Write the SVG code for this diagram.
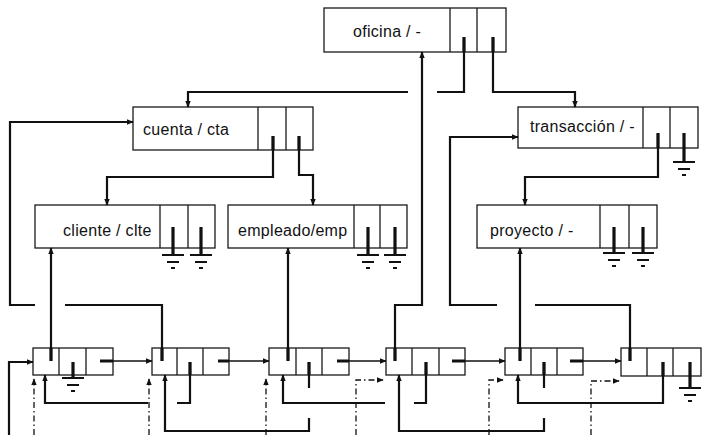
<svg xmlns="http://www.w3.org/2000/svg" width="704" height="435" viewBox="0 0 704 435">
<style>
.box{fill:#fff;stroke:#1a1a1a;stroke-width:1.3}
.dv{stroke:#1a1a1a;stroke-width:1.3;fill:none}
.lbl{font-family:"Liberation Sans",Arial,sans-serif;font-size:16px;letter-spacing:0.3px;fill:#111}
.c{fill:none;stroke:#111;stroke-width:2.2;stroke-linejoin:miter}
.s{fill:none;stroke:#111;stroke-width:3.2}
.t{fill:none;stroke:#111;stroke-width:1.5}
.dd{fill:none;stroke:#111;stroke-width:1.3;stroke-dasharray:6 3 1.5 3}
.g{fill:none;stroke:#111;stroke-width:2}
</style>
<defs>
<marker id="a" viewBox="0 0 10 10" refX="9" refY="5" markerWidth="7" markerHeight="7" markerUnits="userSpaceOnUse" orient="auto"><path d="M0,1 L10,5 L0,9 z" fill="#111"/></marker>
<g id="gnd"><path class="g" d="M-11,0 H11 M-6,7 H6 M-2,13 H2"/></g>
</defs>
<rect width="704" height="435" fill="#fff"/>

<g id="oficina"><rect class="box" x="324" y="8" width="182" height="44"/><path class="dv" d="M450,8 V52 M477,8 V52"/><text class="lbl" x="353" y="37">oficina / -</text></g>
<g id="cuenta"><rect class="box" x="133" y="107" width="180" height="43"/><path class="dv" d="M258,107 V150 M286,107 V150"/><text class="lbl" x="143" y="135">cuenta / cta</text></g>
<g id="transaccion"><rect class="box" x="518" y="107" width="180" height="41"/><path class="dv" d="M643,107 V148 M670,107 V148"/><text class="lbl" x="530" y="132">transacción / -</text></g>
<g id="cliente"><rect class="box" x="35" y="205" width="180" height="43"/><path class="dv" d="M160,205 V248 M188,205 V248"/><text class="lbl" x="63" y="236">cliente / clte</text></g>
<g id="empleado"><rect class="box" x="228" y="205" width="179" height="43"/><path class="dv" d="M354,205 V248 M380,205 V248"/><text class="lbl" x="238" y="236">empleado/emp</text></g>
<g id="proyecto"><rect class="box" x="477" y="205" width="180" height="43"/><path class="dv" d="M600,205 V248 M629,205 V248"/><text class="lbl" x="490" y="236">proyecto / -</text></g>

<g id="n1"><rect class="box" x="33" y="348" width="80" height="27"/><path class="dv" d="M59,348 V375 M86,348 V375"/></g>
<g id="n2"><rect class="box" x="152" y="348" width="77" height="27"/><path class="dv" d="M177,348 V375 M203,348 V375"/></g>
<g id="n3"><rect class="box" x="269" y="348" width="80" height="27"/><path class="dv" d="M296,348 V375 M322,348 V375"/></g>
<g id="n4"><rect class="box" x="386" y="348" width="79" height="27"/><path class="dv" d="M412,348 V375 M439,348 V375"/></g>
<g id="n5"><rect class="box" x="505" y="348" width="78" height="27"/><path class="dv" d="M531,348 V375 M557,348 V375"/></g>
<g id="n6"><rect class="box" x="621" y="348" width="80" height="28"/><path class="dv" d="M647,348 V376 M673,348 V376"/></g>

<g id="connectors">
<path class="c" d="M464,38 V92 H437"/>
<path class="c" d="M408,92 H188 V107" marker-end="url(#a)"/>
<path class="c" d="M493,38 V92 H575 V107" marker-end="url(#a)"/>
<path class="s" d="M464,37 V52 M493,37 V52"/>
<path class="c" d="M273,137 V177 H107 V205" marker-end="url(#a)"/>
<path class="c" d="M299,137 V175 H313 V205" marker-end="url(#a)"/>
<path class="s" d="M273,136 V150 M299,136 V150"/>
<path class="c" d="M658,134 V177 H525 V205" marker-end="url(#a)"/>
<path class="s" d="M658,133 V148 M684,133 V162"/>
<use href="#gnd" x="684" y="162"/>
<path class="s" d="M173,227 V255 M201,227 V255 M368,227 V255 M395,227 V255 M614,227 V253 M643,227 V253"/>
<use href="#gnd" x="173" y="255"/><use href="#gnd" x="201" y="255"/>
<use href="#gnd" x="368" y="255"/><use href="#gnd" x="395" y="255"/>
<use href="#gnd" x="614" y="253"/><use href="#gnd" x="643" y="253"/>

<path class="c" d="M51,361 V248" marker-end="url(#a)"/>
<path class="c" d="M162,361 V305 H65"/>
<path class="c" d="M35,305 H10 V122 H133" marker-end="url(#a)"/>
<path class="c" d="M288,361 V248" marker-end="url(#a)"/>
<path class="c" d="M395,361 V305 H422 V52" marker-end="url(#a)"/>
<path class="c" d="M520,361 V248" marker-end="url(#a)"/>
<path class="c" d="M630,361 V305 H535"/>
<path class="c" d="M497,305 H450 V137 H518" marker-end="url(#a)"/>
<path class="s" d="M51,348 V361 M162,348 V361 M288,348 V361 M395,348 V361 M520,348 V361 M630,348 V361"/>

<path class="c" d="M9,435 V362 H33" marker-end="url(#a)"/>
<path class="t" d="M100,361 H152" marker-end="url(#a)"/>
<path class="t" d="M218,361 H269" marker-end="url(#a)"/>
<path class="t" d="M337,361 H386" marker-end="url(#a)"/>
<path class="t" d="M452,361 H505" marker-end="url(#a)"/>
<path class="t" d="M570,361 H621" marker-end="url(#a)"/>
<path class="s" d="M100,361 H113 M218,361 H229 M337,361 H349 M452,361 H465 M570,361 H583"/>

<path class="s" d="M73,362 V378"/>
<use href="#gnd" x="73" y="378"/>
<path class="c" d="M190,362 V403 H177"/>
<path class="c" d="M148,403 H45 V375" marker-end="url(#a)"/>
<path class="c" d="M309,362 V388"/>
<path class="c" d="M309,418 V431 H165 V375" marker-end="url(#a)"/>
<path class="c" d="M426,362 V403 H414"/>
<path class="c" d="M385,403 H283 V375" marker-end="url(#a)"/>
<path class="c" d="M544,362 V388"/>
<path class="c" d="M544,418 V431 H399 V375" marker-end="url(#a)"/>
<path class="c" d="M663,362 V403 H518 V375" marker-end="url(#a)"/>
<path class="s" d="M690,362 V388"/>
<use href="#gnd" x="690" y="388"/>
<path class="s" d="M190,362 V375 M309,362 V375 M426,362 V375 M544,362 V375 M663,362 V376"/>

<path class="dd" d="M34,435 V379" marker-end="url(#a)"/>
<path class="dd" d="M149,435 V379" marker-end="url(#a)"/>
<path class="dd" d="M266,435 V379" marker-end="url(#a)"/>
<path class="dd" d="M356,435 V380 H383" marker-end="url(#a)"/>
<path class="dd" d="M489,435 V380 H503" marker-end="url(#a)"/>
<path class="dd" d="M591,435 V381 H619" marker-end="url(#a)"/>
</g>
</svg>
